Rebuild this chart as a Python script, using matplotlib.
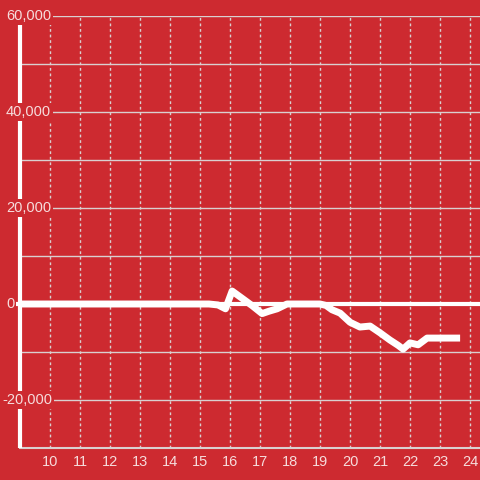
import matplotlib
matplotlib.use("Agg")
import matplotlib.pyplot as plt

hours = [9.0, 15.3, 15.6, 15.85, 16.07, 16.4, 16.75, 17.07, 17.3, 17.57, 17.9,
         19.0, 19.2, 19.4, 19.67, 20.0, 20.33, 20.67, 21.0, 21.33, 21.6, 21.77,
         22.0, 22.27, 22.57, 23.0, 23.67]
values = [0, 0, -200, -1000, 2700, 1200, -400, -2000, -1500, -1000, 0,
          0, -300, -1200, -1900, -3800, -4800, -4600, -6000, -7500, -8600, -9400,
          -8100, -8500, -7100, -7100, -7100]

xticks = list(range(10, 25))
yticks_major = [-20000, 0, 20000, 40000, 60000]
ytick_labels = ["-20,000", "0", "20,000", "40,000", "60,000"]
ygrid = list(range(-20000, 60001, 10000))

bg = '#cd2a30'
txt = '#f6dcdc'
grid_c = '#d9d0d0'

fig = plt.figure(figsize=(4.8, 4.8), dpi=100, facecolor=bg)
ax = fig.add_axes([20/480, 32/480, 460/480, 432/480], facecolor=bg)
ax.set_xlim(9, 24.333)
ax.set_ylim(-30000, 60000)

for s in ax.spines.values():
    s.set_visible(False)

for y in ygrid:
    if y == 0:
        continue
    ax.axhline(y, color=grid_c, lw=1.0, zorder=1)
for x in xticks:
    ax.axvline(x, color=grid_c, lw=1.0, ls=(0, (2, 2)), zorder=1)

# bottom axis line
ax.axhline(-30000, color=grid_c, lw=1.5, zorder=2, clip_on=False)
# left white spine
ax.plot([9, 9], [-30000, 60000], color='white', lw=3, zorder=2, clip_on=False,
        solid_capstyle='butt')
# zero line
ax.axhline(0, xmin=-0.01, color='white', lw=3, zorder=3, clip_on=False)

ax.plot(hours, values, color='white', lw=5, zorder=5, solid_joinstyle='round',
        solid_capstyle='butt')

ax.set_xticks(xticks)
ax.set_xticklabels([str(x) for x in xticks], color=txt, fontsize=10.5,
                   family='Liberation Sans')
ax.tick_params(axis='x', length=0, pad=5)
ax.set_yticks([])

trans = matplotlib.transforms.blended_transform_factory(fig.transFigure, ax.transData)
for v, lab in zip(yticks_major, ytick_labels):
    xpos = 2/480 if lab.startswith('-') else 6/480
    ax.text(xpos, v, lab, transform=trans, ha='left', va='center', color=txt,
            fontsize=10.5, family='Liberation Sans', zorder=10,
            bbox=dict(boxstyle='square,pad=0.12', fc=bg, ec='none'))

fig.savefig('out.png', dpi=100, facecolor=bg)
